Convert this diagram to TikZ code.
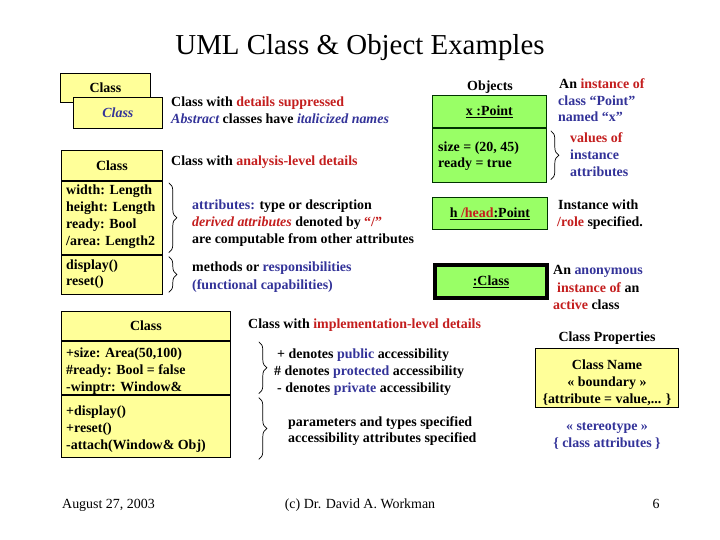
\documentclass[tikz,border=0pt]{standalone}
\usepackage{fontspec}
\setmainfont{Liberation Serif}
\usetikzlibrary{decorations.pathreplacing}
\definecolor{uyel}{HTML}{FFFF99}
\definecolor{ugrn}{HTML}{99FF66}
\definecolor{ured}{HTML}{C41E1E}
\definecolor{ublu}{HTML}{333399}
\newcommand{\rd}[1]{\textcolor{ured}{#1}}
\newcommand{\bl}[1]{\textcolor{ublu}{#1}}
\begin{document}
\begin{tikzpicture}[x=1bp,y=-1bp,
  bodyf/.style={font=\fontsize{14}{17}\selectfont\bfseries},
  txt/.style={bodyf,anchor=base west,inner sep=0pt},
  ctxt/.style={bodyf,anchor=base,inner sep=0pt},
  foot/.style={font=\fontsize{14}{17}\selectfont,anchor=base,inner sep=0pt},
  ybox/.style={draw=black,line width=0.8bp,fill=uyel,bodyf,inner sep=0pt},
  gbox/.style={draw=black!80!green,line width=0.8bp,fill=ugrn,bodyf,inner sep=0pt},
  brc/.style={decorate,decoration={brace,amplitude=8bp},line width=0.7bp}]
\useasboundingbox[fill=white] (0,0) rectangle (720,540);

% title
\node[font=\fontsize{29}{34}\selectfont,anchor=base,inner sep=0pt] (title) at (360,55) {UML Class \& Object Examples};

% suppressed / abstract
\node[ybox,minimum width=90bp,minimum height=29bp,anchor=north west] (c1) at (60,73) {Class};
\node[ybox,minimum width=89bp,minimum height=31bp,anchor=north west] (c2) at (73,97) {\bl{\itshape Class}};
\node[txt] (t1) at (171,107) {Class with \rd{details suppressed}};
\node[txt] (t2) at (171,124) {\bl{\itshape Abstract} classes have \bl{\itshape italicized names}};

% analysis level class
\node[ybox,minimum width=101bp,minimum height=30bp,anchor=north west] (k1) at (61,150) {Class};
\node[ybox,minimum width=101bp,minimum height=73bp,anchor=north] (k1a) at (k1.south) {};
\node[ybox,minimum width=101bp,minimum height=39bp,anchor=north] (k1m) at (k1a.south) {};
\node[txt] (a1) at (66,195) {width: Length};
\node[txt] (a2) at (66,212) {height: Length};
\node[txt] (a3) at (66,229) {ready: Bool};
\node[txt] (a4) at (66,246) {/area: Length2};
\node[txt] (m1) at (66,270) {display()};
\node[txt] (m2) at (66,286) {reset()};
\node[txt] (t3) at (171,166) {Class with \rd{analysis-level details}};

\draw[brc] ([xshift=6bp,yshift=-2bp]k1a.north east) -- ([xshift=6bp,yshift=2bp]k1a.south east);
\draw[brc] ([xshift=6bp,yshift=-2bp]k1m.north east) -- ([xshift=6bp,yshift=2bp]k1m.south east);

\node[txt] (b1) at (192,210) {\bl{attributes:} type or description};
\node[txt] (b2) at (192,227) {\rd{\itshape derived attributes} denoted by \rd{“/”}};
\node[txt] (b3) at (192,244) {are computable from other attributes};
\node[txt] (b4) at (192,272) {methods or \bl{responsibilities}};
\node[txt] (b5) at (192,289) {\bl{(functional capabilities)}};

% objects
\node[ctxt] (objl) at (490,91) {Objects};
\node[gbox,minimum width=114bp,minimum height=32bp,anchor=north west] (o1) at (432,95) {\underline{x :Point}};
\node[gbox,minimum width=114bp,minimum height=54bp,anchor=north] (o1a) at (o1.south) {};
\node[txt] (v1) at (438,152) {size = (20, 45)};
\node[txt] (v2) at (438,168) {ready = true};
\draw[brc] ([xshift=4bp,yshift=-3bp]o1a.north east) -- ([xshift=4bp,yshift=3bp]o1a.south east);

\node[txt] (r1) at (559,89) {An \rd{instance of}};
\node[txt] (r2) at (558,106) {\bl{class “Point”}};
\node[txt] (r3) at (558,122) {\bl{named “x”}};
\node[txt] (r4) at (570,143) {\rd{values of}};
\node[txt] (r5) at (570,160) {\bl{instance}};
\node[txt] (r6) at (570,177) {\bl{attributes}};

\node[gbox,minimum width=115bp,minimum height=32bp,anchor=north west] (o2) at (432,197) {\underline{h \rd{/head}:Point}};
\node[txt] (r7) at (558,210) {Instance with};
\node[txt] (r8) at (557,227) {\rd{/role} specified.};

\node[gbox,draw=black,line width=4bp,minimum width=112bp,minimum height=33bp,anchor=north west] (o3) at (433,263) {\underline{:Class}};
\node[txt] (r9) at (553,275) {An \bl{anonymous}};
\node[txt] (r10) at (557,292) {\rd{instance of} an};
\node[txt] (r11) at (553,309) {\rd{active} class};

% implementation level class
\node[ybox,minimum width=169bp,minimum height=29bp,anchor=north west] (k2) at (61,311) {Class};
\node[ybox,minimum width=169bp,minimum height=53bp,anchor=north] (k2a) at (k2.south) {};
\node[ybox,minimum width=169bp,minimum height=62bp,anchor=north] (k2m) at (k2a.south) {};
\node[txt] (p1) at (66,357) {+size: Area(50,100)};
\node[txt] (p2) at (66,374) {\#ready: Bool = false};
\node[txt] (p3) at (66,391) {-winptr: Window\&};
\node[txt] (q1) at (66,415) {+display()};
\node[txt] (q2) at (66,432) {+reset()};
\node[txt] (q3) at (66,449) {-attach(Window\& Obj)};

\node[txt] (t4) at (248,328) {Class with \rd{implementation-level details}};
\draw[brc] ([xshift=28bp,yshift=-1bp]k2a.north east) -- ([xshift=28bp,yshift=1bp]k2a.south east);
\draw[brc] ([xshift=28bp,yshift=-3bp]k2m.north east) -- ([xshift=28bp,yshift=-2bp]k2m.south east);
\node[txt] (d1) at (277,358) {+ denotes \bl{public} accessibility};
\node[txt] (d2) at (274,375) {\# denotes \bl{protected} accessibility};
\node[txt] (d3) at (277,392) {- denotes \bl{private} accessibility};
\node[txt] (d4) at (288,426) {parameters and types specified};
\node[txt] (d5) at (288,442) {accessibility attributes specified};

% class properties
\node[ctxt] (cp) at (607,341) {Class Properties};
\node[ybox,minimum width=143bp,minimum height=59bp,anchor=north west] (cpb) at (535,348) {};
\node[ctxt] (cp1) at (607,369) {Class Name};
\node[ctxt] (cp2) at (607,386) {« boundary »};
\node[ctxt] (cp3) at (607,403) {\{attribute = value,... \}};
\node[ctxt] (cp4) at (607,430) {\bl{« stereotype »}};
\node[ctxt] (cp5) at (607,447) {\bl{\{ class attributes \}}};

% footer
\node[foot,anchor=base west] (f1) at (62,508) {August 27, 2003};
\node[foot] (f2) at (360,508) {(c) Dr. David A. Workman};
\node[foot] (f3) at (656,508) {6};
\end{tikzpicture}
\end{document}
